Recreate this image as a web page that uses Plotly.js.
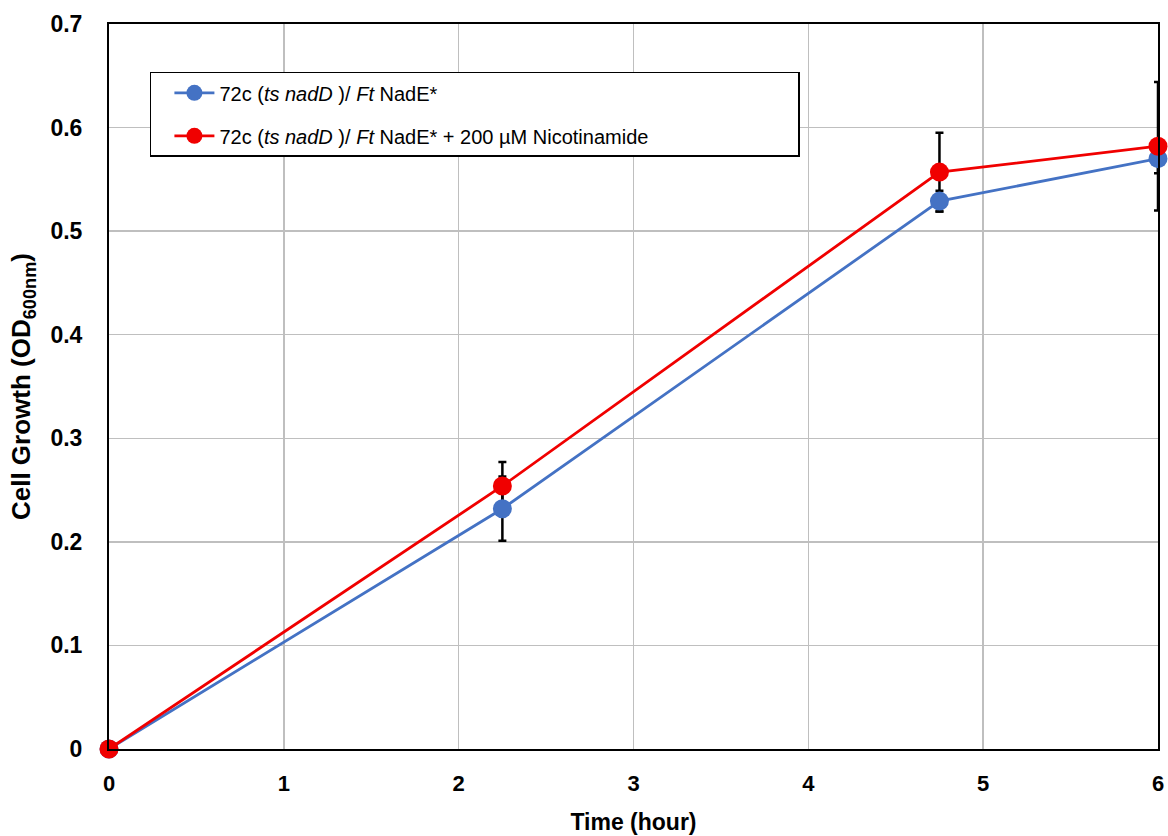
<!DOCTYPE html>
<html>
<head>
<meta charset="utf-8">
<script src="https://cdn.plot.ly/plotly-3.0.1.min.js"></script>
<style>html,body{margin:0;padding:0;background:#fff;}#chart{width:1168px;height:836px;}</style>
</head>
<body>
<div id="chart"></div>
<script>
var timeHours = [0, 2.25, 4.75, 6];
var growthControl = [0, 0.232, 0.529, 0.570];
var errorControl = [0, 0.031, 0.010, 0.014];
var growthNicotinamide = [0, 0.254, 0.557, 0.582];
var errorNicotinamide = [0, 0.023, 0.038, 0.062];
var seriesNames = [
  "72c (<i>ts nadD</i> )/ <i>Ft</i> NadE*",
  "72c (<i>ts nadD</i> )/ <i>Ft</i> NadE* + 200 µM Nicotinamide"
];
var xTicks = [0, 1, 2, 3, 4, 5, 6];
var yTicks = [0, 0.1, 0.2, 0.3, 0.4, 0.5, 0.6, 0.7];

var FONT = "Liberation Sans, Arial, sans-serif";
var BLUE = "#4472C4";
var RED = "#F00000";
// invisible padding so the legend box spans the same width as the reference box
var legendPad = new Array(27).join("&nbsp;");

function errTrace(y, e) {
  return {
    x: timeHours, y: y, type: "scatter", mode: "markers",
    marker: {size: 1, opacity: 0},
    error_y: {type: "data", array: e, visible: true, color: "#000", thickness: 2.5, width: 4},
    showlegend: false, hoverinfo: "skip", cliponaxis: false
  };
}

var traces = [
  errTrace(growthControl, errorControl),
  errTrace(growthNicotinamide, errorNicotinamide),
  {
    x: timeHours, y: growthControl, type: "scatter", mode: "lines+markers",
    name: seriesNames[0], legendgroup: "a", cliponaxis: false,
    line: {color: BLUE, width: 2.8},
    marker: {color: BLUE, size: 19}
  },
  {
    x: timeHours, y: growthNicotinamide, type: "scatter", mode: "lines+markers",
    name: seriesNames[1] + legendPad, legendgroup: "b", cliponaxis: false,
    line: {color: RED, width: 2.8},
    marker: {color: RED, size: 19}
  }
];

var layout = {
  width: 1168, height: 836,
  margin: {l: 109, r: 10, t: 24, b: 87},
  paper_bgcolor: "#fff", plot_bgcolor: "#fff",
  font: {family: FONT, color: "#000"},
  xaxis: {
    range: [0, 6], tickvals: xTicks, ticktext: xTicks.map(String),
    showgrid: true, gridcolor: "#BFBFBF", gridwidth: 1.5,
    zeroline: false, showline: true, mirror: true, linecolor: "#000", linewidth: 2,
    ticks: "", ticklabelstandoff: 14, tickfont: {size: 22, family: FONT, weight: "bold"},
    title: {text: "<b>Time (hour)</b>", font: {size: 23, family: FONT}, standoff: 18},
    automargin: false
  },
  yaxis: {
    range: [0, 0.7], tickvals: yTicks, ticktext: yTicks.map(String),
    showgrid: true, gridcolor: "#BFBFBF", gridwidth: 1.5,
    zeroline: false, showline: true, mirror: true, linecolor: "#000", linewidth: 2,
    ticks: "", ticklabelstandoff: 20, tickfont: {size: 23, family: FONT, weight: "bold"},
    title: {text: "<b>Cell Growth (OD<sub>600nm</sub>)</b>", font: {size: 26, family: FONT}, standoff: 12},
    automargin: false
  },
  showlegend: true,
  legend: {
    x: 0.039, y: 0.934, xanchor: "left", yanchor: "top",
    bgcolor: "#fff", bordercolor: "#000", borderwidth: 1.5,
    font: {size: 20, family: FONT},
    traceorder: "grouped", tracegroupgap: 14,
    itemwidth: 40, indentation: 18
  }
};

Plotly.newPlot("chart", traces, layout, {displayModeBar: false, staticPlot: true});
</script>
</body>
</html>
